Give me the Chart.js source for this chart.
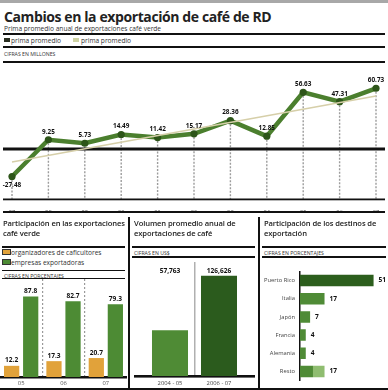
<!DOCTYPE html>
<html>
<head>
<meta charset="utf-8">
<script src="https://cdn.jsdelivr.net/npm/chart.js@4.4.1/dist/chart.umd.min.js"></script>
<style>
body { margin: 0; width: 388px; height: 390px; background: #fff; position: relative; overflow: hidden; font-family: "Open Sans", sans-serif; color: #222; }
.t { position: absolute; white-space: nowrap; }
.h { position: absolute; background: #111; }
canvas { position: absolute; }
.tit { font-weight: 700; font-size: 14px; letter-spacing: -0.4px; }
.sub { font-size: 6.6px; color: #333; }
.cif { font-size: 5.2px; color: #333; }
.pt { font-size: 7.6px; line-height: 10px; color: #222; letter-spacing: -0.1px; font-weight: 600; }
.sw { position: absolute; width: 6px; height: 4px; }
</style>
</head>
<body>
<div class="h" style="left:0;top:0;width:388px;height:3px;background:#a8a8a8"></div>
<div class="t tit" style="left:4px;top:7px">Cambios en la exportación de café de RD</div>
<div class="t sub" style="left:4px;top:24px">Prima promedio anual de exportaciones café verde</div>
<div class="h" style="left:3px;top:33px;width:382px;height:2px"></div>
<div class="sw" style="left:4px;top:38px;background:#2a2f22"></div>
<div class="t sub" style="left:11px;top:35.5px">prima promedio</div>
<div class="sw" style="left:73px;top:38px;background:#cfd3a4"></div>
<div class="t sub" style="left:81px;top:35.5px">prima promedio</div>
<div class="h" style="left:3px;top:46px;width:382px;height:1.5px"></div>
<div class="t cif" style="left:4px;top:50px">CIFRAS EN MILLONES</div>
<div class="h" style="left:3px;top:61px;width:382px;height:2px"></div>

<canvas id="linea" width="388" height="150" style="left:0;top:62px"></canvas>
<div class="h" style="left:3px;top:211px;width:382px;height:1.5px"></div>

<div class="h" style="left:128px;top:217px;width:1.5px;height:173px"></div>
<div class="h" style="left:258px;top:217px;width:1.5px;height:173px"></div>

<div class="t pt" style="left:3px;top:218px">Participación en las exportaciones<br>café verde</div>
<div class="h" style="left:2px;top:246px;width:123px;height:1.5px"></div>
<div class="sw" style="left:3px;top:250px;width:7px;background:#e1a23a;outline:0.8px solid #333"></div>
<div class="t sub" style="left:11px;top:247.5px">organizadores de caficultores</div>
<div class="sw" style="left:3px;top:260px;width:7px;background:#4d8b34;outline:0.8px solid #333"></div>
<div class="t sub" style="left:11px;top:257.5px">empresas exportadoras</div>
<div class="h" style="left:2px;top:270px;width:123px;height:1.2px"></div>
<div class="t cif" style="left:4px;top:271.5px">CIFRAS EN PORCENTAJES</div>
<div class="h" style="left:2px;top:278px;width:123px;height:1.2px"></div>
<canvas id="partic" width="127" height="111" style="left:0;top:279px"></canvas>

<div class="t pt" style="left:134px;top:218px">Volumen promedio anual de<br>exportaciones de café</div>
<div class="h" style="left:132px;top:246px;width:123px;height:1.5px"></div>
<div class="t cif" style="left:134px;top:248.5px">CIFRAS EN US$</div>
<div class="h" style="left:132px;top:256px;width:123px;height:1.5px"></div>
<canvas id="volumen" width="126" height="128" style="left:130px;top:262px"></canvas>

<div class="t pt" style="left:264px;top:218px">Participación de los destinos de<br>exportación</div>
<div class="h" style="left:262px;top:246px;width:124px;height:1.5px"></div>
<div class="t cif" style="left:264px;top:248.5px">CIFRAS EN PORCENTAJES</div>
<div class="h" style="left:262px;top:256px;width:124px;height:1.5px"></div>
<canvas id="destinos" width="128" height="126" style="left:260px;top:263px"></canvas>

<div class="h" style="left:0;top:388px;width:388px;height:1.5px"></div>

<script>
// datos
const anios = ['97', '98', '99', '00', '01', '02', '03', '04', '05', '06', '07']
const prima = [-27.48, 9.25, 5.73, 14.49, 11.42, 15.17, 28.36, 12.85, 56.63, 47.31, 60.73]
const tendencia = [-13, null, null, null, null, null, null, null, null, null, 53]

const anosPart = ['05', '06', '07']
const organizaciones = [12.2, 17.3, 20.7]
const empresas = [87.8, 82.7, 79.3]

const periodos = ['2004 - 05', '2006 - 07']
const volumen = [57763, 126626]

const destinos = ['Puerto Rico', 'Italia', 'Japón', 'Francia', 'Alemania', 'Resto']
const destBase = [51, 17, 7, 4, 4, 9]
const destClaro = [0, 0, 0, 0, 0, 8]
const destEtiq = ['51', '17', '7', '4', '4', '17']

const fuente = '"Open Sans", sans-serif'
Chart.defaults.font.family = fuente
Chart.defaults.animation = false
Chart.defaults.responsive = false
Chart.defaults.plugins.legend.display = false
Chart.defaults.plugins.tooltip.enabled = false

// grafico de linea
const lineaExtras = {
    id: 'lineaExtras',
    beforeDatasetsDraw(chart) {
        const ctx = chart.ctx
        const meta = chart.getDatasetMeta(1)
        const area = chart.chartArea
        ctx.save()
        ctx.strokeStyle = '#9c9c9c'
        ctx.lineWidth = 1.4
        ctx.setLineDash([2, 1.5])
        meta.data.forEach(p => {
            ctx.beginPath()
            ctx.moveTo(p.x, p.y)
            ctx.lineTo(p.x, area.bottom)
            ctx.stroke()
        })
        ctx.setLineDash([])
        let y0 = chart.scales.y.getPixelForValue(0)
        ctx.fillStyle = '#111'
        ctx.fillRect(3, y0 - 1.5, 382, 3)
        ctx.fillRect(3, area.bottom - 0.5, 382, 1.8)
        ctx.restore()
    },
    afterDatasetsDraw(chart) {
        const ctx = chart.ctx
        const meta = chart.getDatasetMeta(1)
        ctx.save()
        ctx.fillStyle = '#111'
        ctx.font = 'bold 6.4px ' + fuente
        ctx.textAlign = 'center'
        ctx.textBaseline = 'middle'
        meta.data.forEach((p, i) => {
            let v = prima[i]
            let dy = v < 0 ? 9 : -8
            ctx.fillText(v.toFixed(2), p.x, p.y + dy)
        })
        ctx.restore()
    }
}

new Chart(document.getElementById('linea'), {
    type: 'line',
    data: {
        labels: anios,
        datasets: [
            {
                data: tendencia,
                spanGaps: true,
                borderColor: '#d6cfa9',
                borderWidth: 1.6,
                pointRadius: 0
            },
            {
                data: prima,
                borderColor: '#4b7f2e',
                borderWidth: 4.5,
                pointRadius: 3.6,
                pointBackgroundColor: '#2d5519',
                pointBorderWidth: 0,
                tension: 0
            }
        ]
    },
    options: {
        layout: { padding: { left: 12, right: 12, top: 0, bottom: 0 } },
        scales: {
            x: {
                grid: { display: false },
                border: { display: false },
                ticks: { font: { size: 5.8 }, color: '#555', padding: 2, maxRotation: 0, autoSkip: false },
                afterFit: s => { s.height = 13 }
            },
            y: { display: false, min: -50, max: 83 }
        }
    },
    plugins: [lineaExtras]
})

// participacion en exportaciones
const barrasEtiq = {
    id: 'barrasEtiq',
    afterDatasetsDraw(chart) {
        const ctx = chart.ctx
        ctx.save()
        ctx.fillStyle = '#111'
        ctx.font = 'bold 6.6px ' + fuente
        ctx.textAlign = 'center'
        ctx.textBaseline = 'bottom'
        chart.data.datasets.forEach((ds, d) => {
            chart.getDatasetMeta(d).data.forEach((b, i) => {
                ctx.fillText(ds.data[i].toFixed(1), b.x, b.y - 2)
            })
        })
        ctx.restore()
    }
}

new Chart(document.getElementById('partic'), {
    type: 'bar',
    data: {
        labels: anosPart,
        datasets: [
            { data: organizaciones, backgroundColor: '#e1a23a' },
            { data: empresas, backgroundColor: '#4d8b34' }
        ]
    },
    options: {
        categoryPercentage: 0.9,
        barPercentage: 0.8,
        layout: { padding: 0 },
        scales: {
            x: {
                grid: {
                    offset: true,
                    color: c => (c.index > 0) ? '#9a9a9a' : 'rgba(0,0,0,0)',
                    lineWidth: 1.2,
                    drawTicks: false
                },
                border: { display: true, color: '#111', width: 2.5, dash: [2, 2] },
                ticks: { font: { size: 5.8 }, color: '#555', padding: 3 },
                afterFit: s => { s.height = 13 }
            },
            y: { display: false, min: 0, max: 107 }
        }
    },
    plugins: [barrasEtiq]
})

// volumen promedio
const volEtiq = {
    id: 'volEtiq',
    beforeDatasetsDraw(chart) {
        const ctx = chart.ctx
        const area = chart.chartArea
        ctx.save()
        ctx.fillStyle = '#111'
        ctx.fillRect(4, area.bottom - 1, 121, 2.6)
        ctx.restore()
    },
    afterDatasetsDraw(chart) {
        const ctx = chart.ctx
        const area = chart.chartArea
        ctx.save()
        ctx.fillStyle = '#111'
        ctx.font = 'bold 6.6px ' + fuente
        ctx.textAlign = 'center'
        ctx.textBaseline = 'middle'
        chart.getDatasetMeta(0).data.forEach((b, i) => {
            ctx.fillText(volumen[i].toLocaleString('en-US'), b.x, area.top + 9)
        })
        ctx.restore()
    }
}

new Chart(document.getElementById('volumen'), {
    type: 'bar',
    data: {
        labels: periodos,
        datasets: [
            { data: volumen, backgroundColor: ['#4f8b35', '#2b5b1d'] }
        ]
    },
    options: {
        categoryPercentage: 1,
        barPercentage: 0.735,
        layout: { padding: { left: 15.5, right: 12.5, top: 0, bottom: 0 } },
        scales: {
            x: {
                grid: {
                    offset: true,
                    color: c => (c.index === 1) ? '#b0b0b0' : 'rgba(0,0,0,0)',
                    lineWidth: 1.5,
                    drawTicks: false
                },
                border: { display: false },
                ticks: { font: { size: 5.8 }, color: '#444', padding: 4 },
                afterFit: s => { s.height = 14 }
            },
            y: { display: false, min: 0, max: 144000 }
        }
    },
    plugins: [volEtiq]
})

// destinos
const destEtiqPlugin = {
    id: 'destEtiq',
    afterDatasetsDraw(chart) {
        const ctx = chart.ctx
        const xs = chart.scales.x
        ctx.save()
        ctx.fillStyle = '#111'
        ctx.font = 'bold 6.6px ' + fuente
        ctx.textAlign = 'left'
        ctx.textBaseline = 'middle'
        chart.getDatasetMeta(0).data.forEach((b, i) => {
            let total = destBase[i] + destClaro[i]
            ctx.fillText(destEtiq[i], xs.getPixelForValue(total) + 5, b.y)
        })
        ctx.restore()
    }
}

new Chart(document.getElementById('destinos'), {
    type: 'bar',
    data: {
        labels: destinos,
        datasets: [
            { data: destBase, backgroundColor: ['#2c5e1d', '#4f8b36', '#4f8b36', '#4f8b36', '#4f8b36', '#4f8b36'] },
            { data: destClaro, backgroundColor: '#8fbd70' }
        ]
    },
    options: {
        indexAxis: 'y',
        categoryPercentage: 1,
        barPercentage: 0.63,
        layout: { padding: 0 },
        scales: {
            x: { display: false, stacked: true, min: 0, max: 61 },
            y: {
                stacked: true,
                grid: { display: false, drawTicks: false },
                border: { display: true, color: '#111', width: 1.5 },
                ticks: { font: { size: 5.8 }, color: '#444', padding: 5 },
                afterFit: s => { s.width = 40 }
            }
        }
    },
    plugins: [destEtiqPlugin]
})
</script>
</body>
</html>
